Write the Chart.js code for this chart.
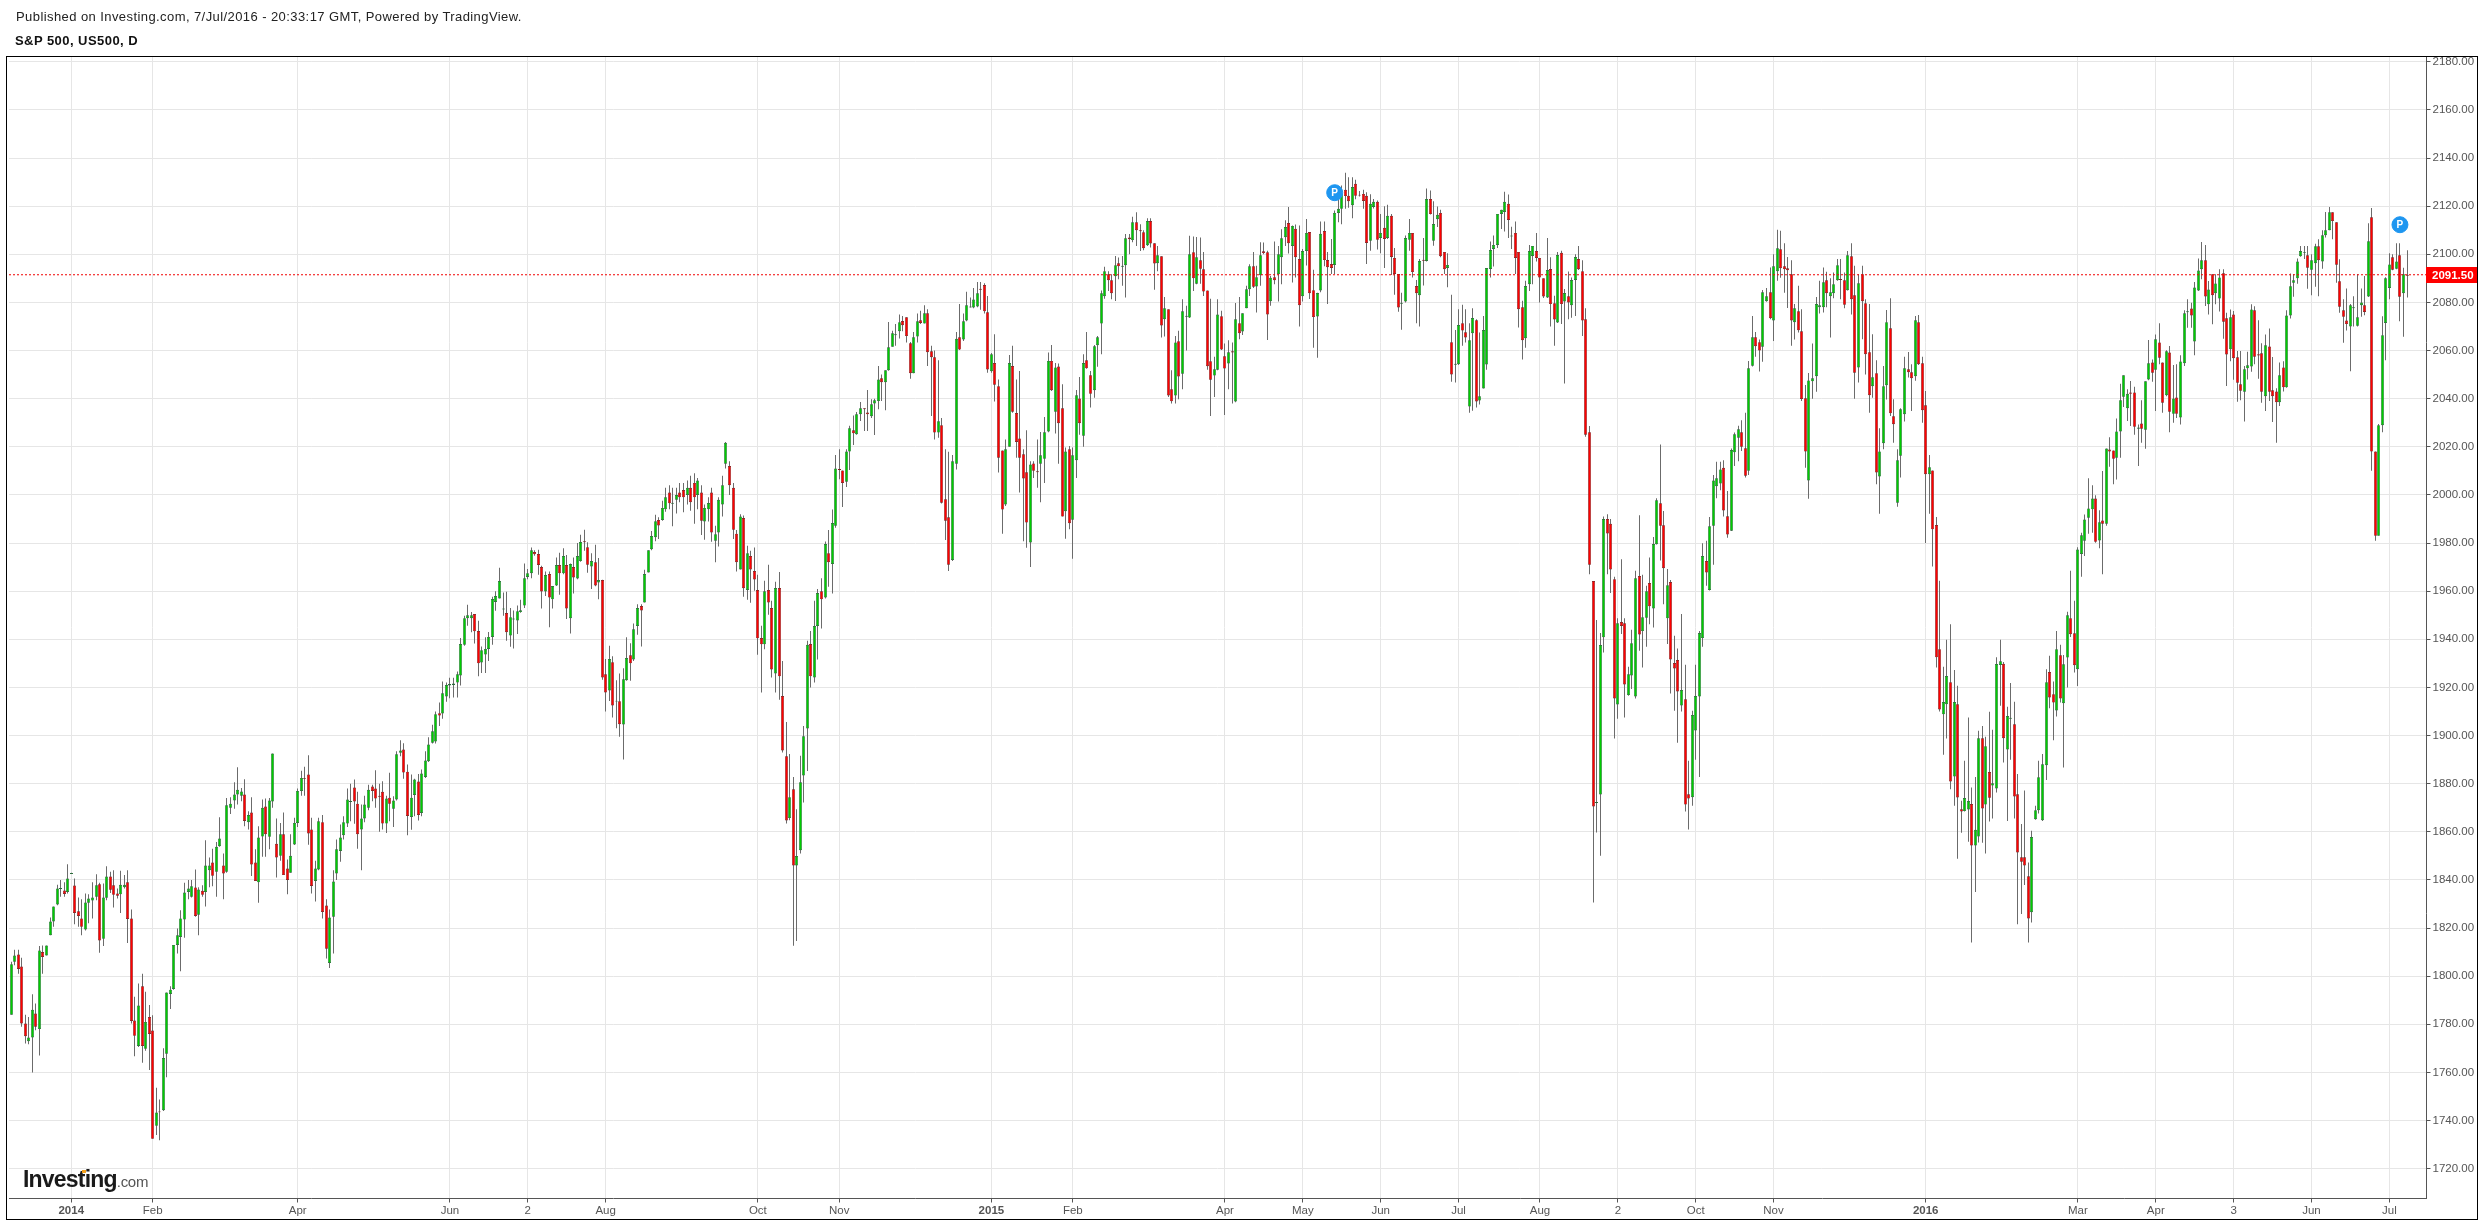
<!DOCTYPE html>
<html>
<head>
<meta charset="utf-8">
<title>S&amp;P 500, US500, D</title>
<script src="https://cdn.jsdelivr.net/npm/chart.js@4/dist/chart.umd.min.js"></script>
<style>
  html, body { margin: 0; padding: 0; background: #fff; }
  body { width: 2484px; height: 1222px; position: relative; overflow: hidden; font-family: "Liberation Sans", Arial, sans-serif; }
  #chart { position: absolute; left: 0; top: 0; }
  #published { position: absolute; left: 16px; top: 10px; font-size: 13px; letter-spacing: 0.42px; line-height: 14px; color: #222; white-space: nowrap; }
  #symbol { position: absolute; left: 15px; top: 34px; font-size: 13px; letter-spacing: 0.45px; line-height: 14px; font-weight: bold; color: #111; white-space: nowrap; }
  #frame { position: absolute; left: 6px; top: 56px; width: 2472px; height: 1164px; box-sizing: border-box; border: 1px solid #000; pointer-events: none; }
  #logo { position: absolute; left: 23px; top: 1165px; white-space: nowrap; color: #1a1a1a; font-size: 23px; font-weight: bold; letter-spacing: -0.8px; line-height: 28px; }
  #logo span { font-size: 15px; font-weight: normal; color: #555; letter-spacing: -0.3px; }
  #logoDot { position: absolute; left: 82px; top: 1170px; width: 4px; height: 3px; background: #f7a21b; }
</style>
</head>
<body>
<canvas id="chart" width="2484" height="1222"></canvas>
<div id="published">Published on Investing.com, 7/Jul/2016 - 20:33:17 GMT, Powered by TradingView.</div>
<div id="symbol">S&amp;P 500, US500, D</div>
<div id="frame"></div>
<div id="logo">Investing<span>.com</span></div>
<div id="logoDot"></div>
<script>
// daily candles
const opens = [
1784,1806,1809,1804,1780.3,1773,1774.5,1784.5,1778,1810,
1808.6,1817,1822.7,1829.8,1836.2,1835.6,1835,1842.5,1837.7,1827,
1824,1819.4,1830.5,1831.4,1833,1838.2,1815.5,1832.6,1841.4,1837.8,
1834.4,1834,1837,1839,1824,1781.6,1771,1795.8,1769.8,1783,
1777.4,1737.8,1743.8,1744.3,1767.8,1792.6,1794.7,1813,1816.3,1823.5,
1835,1833,1836.9,1825.5,1835.5,1835,1844,1847.2,1843.4,1854,
1846,1843.4,1870,1873,1875.5,1875,1875.5,1864,1868,1847.2,
1839,1858,1870.5,1857.9,1872.6,1855,1850,1859,1844.7,1843,
1854.7,1863.7,1877,1882.4,1883.8,1861,1839.6,1844.3,1864,1829.4,
1805.5,1824.7,1842.7,1852,1858.6,1863.4,1872.4,1878.4,1871.7,1861,
1865.5,1870,1878.8,1878,1875,1876.6,1863.4,1874.2,1869.6,1873.4,
1892.8,1894.2,1885,1866.2,1875.3,1880.9,1867.8,1882.8,1889.3,1897,
1897.5,1909.3,1909.2,1916.2,1920.8,1921,1922,1925,1937.7,1948.8,
1948.8,1950.5,1943.4,1930.4,1933.7,1936,1941,1955.5,1957,1952.4,
1950.9,1941.6,1948.2,1947.8,1951.3,1954,1965.9,1967.5,1976.3,1975.4,
1970,1959.9,1967.1,1956.6,1962.4,1970.9,1967.4,1970.9,1948.8,1970,
1965.3,1972.5,1980.8,1978.3,1970.3,1972,1963.6,1964.6,1925.5,1918.7,
1930.5,1914.1,1914.3,1904.6,1923,1933.4,1931.6,1945.5,1953.8,1955.3,
1967.8,1977.4,1982.4,1989.6,1989.6,1994,2001,1996.3,1998,2001,
2002,2000,2003,2005,2000,2001,1989,1994,2001,1981,
1984.4,1996,2013,2012,2003,1983.9,1969,1990.4,1960.5,1974.6,
1968.4,1960.5,1940.5,1937.9,1960.5,1953,1925.8,1961.3,1916.4,1891.4,
1865.7,1877.7,1846,1852.3,1883.4,1902.9,1938,1924.1,1945.5,1960,
1957.4,1975.8,1971.3,1987.2,2010.8,2010.2,2005.5,2018,2026.9,2025.2,
2033.5,2036,2034.3,2032.7,2038,2039,2048.5,2046.8,2051.8,2061.6,
2066.4,2068,2072.3,2073.8,2063,2050.6,2065.8,2072.6,2071.2,2075.5,
2059.7,2057.2,2025.9,2029,1998.2,1990.7,1973,2013,2065.5,2064.6,
2072.5,2077.9,2077.9,2078.3,2085.7,2087.2,2075.9,2051.4,2054.8,2045.2,
2018.5,1996,2020,2053.6,2034,2023.5,2016.9,2009.4,1980.2,2013.1,
2009.8,2013,2015,2026.4,2055.7,2034.6,2053.4,2036,1993.2,2019,
1989.7,2014.4,2040.1,2024.6,2056,2049.7,2043.5,2062.2,2071.2,2082.6,
2091.7,2089.2,2090.9,2096.3,2094.8,2095.5,2107,2105.9,2113.3,2110,
2109.2,2103.8,2113.8,2104.6,2096.3,2099.2,2073,2077.2,2043.9,2041.3,
2063.9,2050.4,2074.1,2073.7,2100.9,2087.8,2097.5,2093.8,2085,2055.6,
2049.6,2052,2074.3,2057.6,2054.6,2059.7,2038.8,2071.4,2067.9,2077.6,
2085.5,2095,2086.6,2091.3,2101.3,2100.9,2080.5,2090.5,2091.7,2098.8,
2107.1,2113,2103.5,2110.6,2098,2082.6,2101.4,2109.3,2085.1,2074.2,
2085,2109.7,2097.6,2096,2095.6,2117.2,2118.9,2126.8,2124.3,2120.4,
2129.3,2124.8,2125.1,2124.3,2105.6,2119.7,2121.8,2106.8,2111,2106.8,
2116,2098.5,2091.8,2079.5,2080.4,2106,2108.9,2086.8,2083,2097.7,
2097.2,2123,2105.6,2114.6,2117.2,2101,2094.3,2063.5,2054.1,2054.3,
2071.4,2067.6,2036.7,2067.2,2072.6,2039.2,2044.2,2054.2,2093.9,2102.2,
2103.9,2116.8,2117.6,2121,2107.4,2108.9,2101,2078,2065.1,2087.6,
2099.3,2101.4,2098.5,2090.1,2082.1,2093.9,2079.7,2071.7,2100.6,2080.4,
2082.6,2078.8,2089.3,2098,2093,2073,2026,1964.2,1872,1875.5,
1940.8,1990,1988,1965,1912.9,1947.2,1946.7,1916.8,1925,1916.2,
1966.3,1943.4,1949,1963.4,1952.8,1979.5,1996.5,1987.4,1948.7,1963.8,
1930.1,1931.4,1912.5,1915.1,1875.6,1874.4,1902.1,1916.2,1940.5,1972.5,
1960.5,1987.2,2003.6,2004.7,2011.3,1991.1,1985.1,2017.7,2023.8,2026,
2019.4,2010,2053.7,2065.5,2063.5,2061.6,2080.5,2084.2,2072.5,2093,
2102.1,2095,2094.2,2091.7,2071.8,2076.3,2068,2040.2,2006,2047.2,
2049.3,2078,2078,2089.2,2082.6,2083.8,2089.2,2089.7,2089.2,2085.1,
2099.2,2083,2053,2091.7,2079.7,2059.3,2045.2,2050.6,2007.7,2021.5,
2045.6,2069.3,2032.7,1996.8,2016.3,2033.5,2052.2,2051,2049.3,2071.8,
2054.7,2037.3,2008.6,2010.2,1987.5,1935.9,1908.8,1913,1922.2,1883,
1913,1869.4,1868.6,1869.3,1871.5,1854.3,1858,1898.9,1871.3,1884.8,
1879.2,1878,1929.3,1929.8,1894.2,1907,1904.7,1875.6,1849.4,1849.4,
1841.5,1826.6,1865.2,1869,1864.8,1887.7,1926.4,1917.2,1910.4,1933.4,
1913.4,1932.4,1948.8,1942.5,1927.6,1975.5,1981,1990.5,1994,1998.5,
1981.1,1989.4,1988,2018.9,2018.5,2015.5,2026.4,2040.8,2036,2042.6,
2042.6,2027.5,2029.7,2027.1,2048,2055,2052,2063.4,2055,2041.4,
2059.2,2033.7,2040.5,2032.2,2054.7,2075.9,2077.5,2063.8,2085,2093.8,
2097.5,2079.2,2091.7,2083.8,2081.6,2092.1,2073.4,2060.5,2075,2057.2,
2046,2042.9,2052.6,2053.4,2076.7,2058.5,2058.9,2041,2061.7,2043.5,
2043,2038.5,2053,2044.7,2074.6,2088.2,2090,2099.2,2100.6,2099.6,
2093.6,2096.3,2103.3,2097,2107.9,2110,2117.5,2113.3,2088.8,2076.7,
2072.5,2070,2077.6,2070.3,2078.8,2078.8,2082.5,2115.4,2018,1983,
2029,2071.5,2086,2098.8,2094,2099.6,2083.8,2091.5
];
const closes = [
1805,1808.6,1803,1780.3,1775,1774.5,1786,1779,1810.7,1808,
1812.7,1822.7,1829,1836.4,1836.6,1834.2,1840.6,1842.9,1826.3,1825,
1820.5,1830.6,1832.3,1832.7,1837.8,1814.8,1832.7,1841.4,1835.9,1833.8,
1833.4,1838,1838,1823.8,1781.4,1775.2,1787.8,1771,1781,1776,
1732.4,1743.3,1743.4,1766,1793.2,1794.4,1813,1817,1824,1834.8,
1836.4,1837.4,1825,1836,1833.8,1846,1846,1841.7,1853.8,1857.2,
1842.7,1871,1871.7,1875.5,1877.5,1876.7,1864.5,1867,1846.4,1839.6,
1857.6,1870,1859,1873,1892.5,1849.3,1859,1842,1840,1850,
1863.7,1877,1882.4,1882,1859.3,1837.5,1844.7,1864.4,1826.7,1811.4,
1824.4,1839.3,1852.7,1857.6,1864,1873.4,1872.8,1872.6,1859,1865.5,
1871.3,1877.5,1877,1873.8,1874.6,1863.4,1873.8,1871.7,1873,1892.2,
1893.8,1884.6,1866.6,1874.2,1881.7,1867,1884.2,1889.6,1896.3,1901.8,
1908.9,1908.3,1917.6,1921,1921.4,1921.6,1925.5,1938,1948.8,1950,
1950,1943.3,1930,1935.5,1936,1941,1956.7,1958,1964.2,1952.8,
1942.9,1949.2,1948.6,1951.7,1952.1,1965.4,1967.5,1977,1975.3,1970.9,
1959.9,1966.7,1957.4,1962.1,1970.9,1967.4,1974.6,1952.8,1971.3,1965.7,
1974.6,1980.4,1980.3,1971,1972.5,1962.4,1964.6,1924.1,1917.9,1931.8,
1912.5,1914.5,1904.7,1923.4,1932.2,1930,1944.2,1953,1952,1967.1,
1977,1982.9,1989.1,1987.3,1994.6,1999,1996.5,1996.7,2000,1999,
1999,2003,1997,1999,2006,1989.3,1994.6,1996.6,1984.4,1983.7,
1998,2004,2021.7,2004,1985.5,1972,1991,1961.2,1975.8,1969,
1964.9,1940.4,1937.9,1960,1955.3,1927.5,1961.3,1924.6,1893.8,1864.7,
1874.4,1846,1849.9,1880.6,1899.7,1937.7,1924.6,1945.5,1959.2,1956.6,
1979.6,1972,1988.3,2011,2010.4,2005,2018,2027.7,2025.6,2033.5,
2036,2035.6,2033.5,2037.7,2039.3,2048,2046.8,2051.8,2061.4,2067.2,
2066.8,2071.8,2070.5,2066,2050.6,2065.5,2072.2,2071.5,2075.5,2059.3,
2057.2,2025.9,2030.6,1996.8,1989.3,1971,2014,2064.9,2060.4,2072.2,
2078.8,2078.3,2081.2,2083.8,2085.3,2076.3,2052.1,2058.5,2045.8,2015.5,
1993.9,2019,2054.8,2034.6,2022,2015.5,2006.8,1988.5,2012.6,2010,
2009.4,2016.5,2026,2055.7,2043.5,2053,2029.8,1991,2018,1988.2,
2016.5,2041.4,2029.8,2054.8,2052.6,2042,2061.8,2065.5,2083.8,2093,
2089.2,2083.8,2095.5,2095,2095.2,2106.7,2106.3,2113.3,2110,2109.6,
2102.5,2113.8,2104.5,2096.2,2099.6,2070.4,2077.6,2041.3,2038.9,2063.4,
2049.2,2076.3,2074.5,2100,2090,2098.8,2094,2084.5,2053.5,2047.9,
2052.2,2075,2060.4,2052.5,2059.3,2059.2,2073,2067.2,2075.5,2085.5,
2095,2086.5,2090.5,2099.6,2100.5,2075,2090.3,2089.2,2100,2106.7,
2111.3,2104.6,2111.8,2098.8,2078.8,2101.4,2108.9,2083.8,2073.9,2083.9,
2108.5,2097.6,2094.6,2094.3,2117.2,2118.9,2125.1,2124.2,2122.1,2128,
2124.3,2124.4,2122.2,2104.7,2121,2121.8,2106,2108.9,2106.4,2116,
2098.9,2091.8,2077.9,2079.9,2106.8,2108.9,2092.6,2083.8,2097.2,2097.3,
2123,2116.7,2112.6,2116.4,2099.2,2093.8,2095.6,2050.1,2054.5,2070.6,
2068.3,2065.4,2064.3,2073.5,2038.8,2041,2068.5,2094.3,2101.8,2103.9,
2116.8,2118.5,2121.8,2114.3,2107.8,2098.5,2077.2,2064.3,2086.8,2101.4,
2103.5,2098.5,2090.4,2082.5,2093.5,2079.3,2072.9,2099.7,2079.3,2083.9,
2080,2089.3,2098.9,2093.8,2072.5,2025,1971,1870.5,1872.4,1937.6,
1990,1984,1969,1915.4,1946.7,1945.5,1921.2,1925.5,1938.4,1965.4,
1942,1949.2,1960,1953.7,1979.6,1997.8,1987.2,1969.5,1962.5,1931.6,
1927.9,1918.3,1918.9,1871.3,1873.8,1908.5,1916.4,1942.6,1974.6,1967.8,
1987,2006,2006.9,2010.6,1993.5,1983.6,2018.7,2025.2,2027.3,2020,
2008,2052.6,2065.5,2061.8,2060,2084.2,2082.6,2073.4,2095,2102.5,
2094.2,2093.8,2093.4,2072.5,2077.6,2068.4,2039.9,2018,2047.6,2048.5,
2079.3,2078.8,2088.4,2083.8,2084.2,2087.6,2095.5,2089.3,2079,2099.6,
2081.3,2050.8,2088,2080.5,2058.5,2041.4,2048.9,2009.3,2018.1,2045.2,
2071.8,2033.9,2029.4,2014.4,2035.6,2052.6,2051,2048.5,2072.6,2054.3,
2035.2,2008.6,2011.5,1985.7,1932.5,1910.8,1913.9,1924.7,1880.9,1913.9,
1874.3,1868.4,1874,1872.8,1854.3,1860.8,1898.9,1869.7,1895.6,1874.2,
1880.2,1929.7,1930.9,1898.9,1908.1,1907.4,1874.7,1851.4,1847.6,1846,
1824,1857.8,1869,1882.7,1888.1,1922.2,1915.8,1913.7,1935.9,1915.4,
1929.6,1950,1942.1,1929.2,1977.3,1983.2,1989.8,1994.4,1998.5,1980.5,
1988.6,1988,2019.3,2018,2015,2026.4,2039.3,2049.7,2042,2042,
2028.3,2028,2027.5,2047.2,2054.7,2050.8,2064.7,2057,2038.3,2059.7,
2034.6,2040.1,2033.7,2055.5,2075.5,2076.3,2074.6,2086.2,2093.3,2097.5,
2082.5,2085.4,2083,2087.9,2090.4,2072,2058.4,2073.8,2056.8,2046.6,
2043.3,2052.2,2053.9,2077.1,2057.4,2057.9,2042.9,2062.2,2042.9,2041,
2038.5,2049.7,2044.7,2074.6,2086.7,2089.2,2097,2101.4,2101,2094.4,
2097.5,2103.3,2097.5,2107.9,2110,2117.5,2113.8,2095.7,2078.2,2074,
2071,2078.8,2078,2073.8,2080,2076,2105.4,2018,1983,2029,
2066.4,2090,2095.8,2093.6,2097,2082.4,2091.7,2091.1
];
const highs = [
1806,1811,1811,1807.7,1784,1783,1792.5,1788.6,1812.5,1812.7,
1812.7,1824.4,1829,1838,1840,1839,1846.5,1843,1840.6,1832.7,
1832,1834.4,1834,1839,1842.4,1838.8,1838.5,1845.7,1843.4,1844,
1836.4,1843.8,1842,1844,1827.7,1791.4,1797,1801,1793.5,1788,
1783.8,1753.6,1748.7,1770,1793.2,1795.8,1813,1819.8,1827.4,1838.8,
1840,1840,1844.3,1837,1837.8,1856.5,1849.3,1853,1855.8,1866,
1851,1874,1874.4,1880.6,1886.8,1878.2,1881.8,1868.5,1874.4,1852.7,
1862.3,1873.4,1873.8,1874,1892.5,1865.5,1863.7,1868,1848.5,1859,
1865.8,1878,1885.4,1887,1891.8,1865.8,1848,1865.8,1867,1832,
1827.7,1844,1856.8,1863,1866.5,1878,1880,1881.7,1876.6,1871.3,
1875,1879.6,1879.6,1885.6,1880,1881,1875,1884.5,1874.8,1893.5,
1898,1896.8,1888,1883.8,1882,1884,1885.9,1893.5,1899.3,1904.5,
1910,1913.7,1922.5,1922,1924,1924,1926.6,1940.5,1949.8,1954.4,
1951.3,1950.5,1947.7,1937,1940.8,1943,1957.7,1960,1969.7,1959.5,
1959.8,1953,1952,1954,1956.4,1971.5,1969.2,1978.2,1977,1977.2,
1970.6,1968.2,1968.2,1962.1,1974,1976,1977.8,1975,1971.5,1974,
1980,1983.5,1985.5,1980.3,1975.8,1979.3,1973.8,1964.8,1931.8,1937.3,
1933,1923,1925.8,1928,1940.8,1938.4,1946.6,1954.6,1954.6,1968.9,
1977,1985,1991.8,1990.7,1997.6,2003,2004,2003,2003,2005,
2005,2006,2008,2009,2007,2004,1996,1999,2003,1987.2,
1999,2008,2022,2014,2005,1985.4,1992,1991.4,1978.9,1976.8,
1978.2,1966.8,1945.6,1964.3,1971,1956,1963.9,1968,1931,1905.6,
1892.3,1882.8,1869.4,1891.6,1904,1939.4,1943.5,1956,1960.9,1965.4,
1980.6,1985.4,1993.9,2016.6,2019,2010.2,2019,2028.7,2033,2034.5,
2038.6,2036,2043.6,2039.8,2040,2053.6,2050,2051.8,2071.9,2068.2,
2071,2075,2074.4,2073.8,2063.6,2067.7,2075.4,2076.5,2078.8,2077.2,
2062,2060,2056,2032,2019,2017.9,2016.6,2067.7,2079.3,2075.4,
2084.4,2082,2086,2088.5,2088.5,2088,2082.7,2059,2066.8,2048,
2018.5,2023,2058.2,2062,2048,2051.5,2019,2026.9,2014,2014,
2023,2026.2,2032.4,2059.2,2062.3,2054.8,2054.6,2046,2019.7,2020.3,
2019.7,2043.6,2049,2058.5,2067.7,2051.5,2062.3,2066,2085,2094.8,
2093,2091.7,2099.3,2098.7,2099.3,2108.4,2108.4,2115.6,2117.5,2112.5,
2110,2115,2115,2104.6,2103.5,2099.2,2082.3,2077.2,2051.8,2066,
2068.2,2081.3,2078.6,2107.7,2107.4,2107.2,2107,2101,2085,2081.5,
2057.4,2081.3,2076.5,2062.9,2064.3,2063.3,2079.8,2082.3,2075.5,2086.9,
2095.9,2101,2095.2,2105,2104.9,2101.5,2091,2105.3,2103.5,2110.4,
2114.2,2119.7,2112,2112.4,2112,2102.2,2114.7,2109.3,2093.6,2084,
2113.6,2113.6,2101,2106.4,2118.2,2125,2128.6,2133.9,2132,2132,
2131,2126.3,2126.8,2125.8,2125,2123,2122.4,2116.8,2120,2120.6,
2116.8,2102.6,2091.8,2084,2107.8,2114.7,2108.9,2089.3,2098,2106.8,
2127.4,2126.5,2122.1,2119.9,2118.5,2101,2100.4,2083.2,2068.5,2077.2,
2079,2077.2,2071.4,2077.6,2073,2067.5,2074.4,2094.3,2105.3,2107.8,
2116.8,2118.5,2126,2124.9,2111.5,2113.6,2101,2080.7,2089,2103.9,
2103.5,2108.9,2098.5,2090.1,2106.8,2098.8,2082.8,2101,2101.5,2085.6,
2092.9,2090.4,2100,2103.5,2097.5,2077.6,2028.6,1964.2,1948,1942.6,
1991,1992,1990,1966,1948.8,1973.3,1948.8,1928.6,1944,1968.5,
1991.6,1966.8,1962.3,1974,1982.5,1998.6,2021,1993.3,1969.2,1964.6,
1941.5,1936.2,1950.5,1929.4,1889.5,1910.3,1929.4,1943.5,1979.9,1981,
1990.8,2008.3,2013.8,2013.8,2014.4,2001.6,2019.3,2025.9,2028.7,2031,
2034.2,2055.7,2074.4,2067.7,2064.6,2085.2,2086,2094.5,2100,2110.2,
2109.8,2104.6,2098.9,2097.5,2079.3,2086.9,2077.2,2045.7,2050.7,2062.9,
2082.3,2089,2094.5,2092.8,2090,2092.4,2098,2098,2092.4,2101.4,
2104.6,2095.2,2091.7,2095.2,2081.3,2079.3,2066.8,2056,2027.7,2053.6,
2076.9,2081.7,2039.8,2019,2036,2057.4,2059.4,2054.3,2074.4,2074.8,
2057.4,2043.2,2016.6,2010.2,1990.8,1964.3,1928.6,1939.8,1946.3,1927.2,
1920.7,1872.9,1889.5,1907.5,1878.4,1882.8,1902,1904,1899.5,1909.9,
1902.4,1932.5,1939.8,1930.6,1912,1921.8,1914,1884,1863.2,1877.2,
1847.2,1860.4,1870.8,1889.5,1892.3,1927.6,1933.2,1922.5,1943.5,1937.7,
1933.5,1951.5,1968.5,1956,1978.3,1984.3,1991.9,2006.9,2004,1999.9,
1993.6,2009.9,2019.3,2024,2018.5,2031.8,2046.2,2049.7,2043.9,2047.3,
2045,2029.3,2039.3,2047.2,2064.4,2056.3,2066.7,2071.3,2055,2060.1,
2061.9,2054,2054.3,2058.1,2076.7,2081.3,2079.9,2088.5,2098.3,2105.1,
2103.9,2088.9,2091.7,2091.7,2093.8,2093.8,2075.7,2077.1,2076.4,2059.8,
2059.8,2053.6,2059.5,2079.2,2078.4,2072.6,2063,2066.7,2069.2,2057.3,
2044.3,2055,2055.6,2076.7,2092,2091.7,2098.3,2103.5,2103.5,2103.5,
2100,2104.4,2106.3,2110,2117.6,2119.7,2117.5,2113.3,2097.9,2081.3,
2085.8,2079.4,2082.6,2091.7,2085.8,2091,2112.9,2119.2,2018,2029.5,
2074.3,2090.5,2100.4,2100,2104.6,2104.6,2094.4,2101.7
];
const lows = [
1784,1804.5,1801,1779,1772,1771.7,1760,1777.5,1767,1801,
1808.6,1817,1820.5,1829.5,1833,1833,1834.4,1842.5,1821.6,1820.5,
1817,1819,1822,1824,1831.6,1809.7,1812.5,1831.6,1834.6,1828.5,
1832.3,1826.3,1836.4,1813.8,1780.3,1766.7,1770.6,1764,1769,1761,
1732.4,1734,1731.8,1744,1758,1786.4,1794.4,1809.4,1802,1816,
1832,1832.7,1824.7,1817,1833,1829,1837,1837.4,1833,1853.8,
1832,1843,1867.4,1869.6,1871.3,1872.7,1862.3,1861,1841.6,1839.6,
1830.5,1849.6,1849.6,1852.7,1870,1841,1848,1842,1834,1843,
1854.5,1862,1875,1875,1854.6,1834.4,1831,1844,1824,1807.3,
1803.4,1809.4,1840,1847.5,1856.8,1862,1864.4,1863.3,1853,1844,
1864,1869,1872.7,1870,1860,1861,1859.5,1864.4,1862,1873,
1891.4,1882,1858.6,1860.8,1866.5,1864.7,1866.5,1882.4,1889,1896.7,
1896.7,1904,1907,1914,1915.5,1915.8,1915.8,1920.8,1937.3,1945.6,
1942.9,1938.3,1924.6,1926,1926,1931,1937.7,1951.9,1957,1949.8,
1939.4,1936.9,1936.2,1942.2,1951,1953,1965,1965.4,1974.7,1966.8,
1952.8,1958,1945,1952.8,1962.1,1958.5,1967,1948.4,1942.4,1959,
1965,1972.2,1976.8,1967.7,1960.9,1962,1956.6,1923.2,1910,1914.4,
1907.5,1903,1899.5,1890,1922.8,1922.8,1931,1941.9,1937,1955.3,
1967.8,1977,1980.7,1981.7,1989.3,1993,1994,1987,1992.3,1997,
1992.8,1996,1993.4,1988,1994,1983.3,1981.4,1989,1980.5,1972,
1978.6,1991,2011,2000,1981.7,1968.2,1969,1957.7,1956.4,1955.2,
1960.2,1933.6,1917.9,1935.9,1950.2,1924.1,1917.9,1914.9,1893,1863.4,
1864.8,1812.6,1814.6,1851,1872.2,1885.3,1920,1922,1931.6,1944.5,
1957,1961.8,1959,1986.4,2006.5,1995,2003.3,2010.4,2020.8,2025,
2030.7,2026.6,2026.6,2032,2024.9,2035.6,2039,2035.2,2051.6,2061.6,
2062,2065,2068,2063.3,2048.3,2050.6,2063.3,2071,2071.2,2053.6,
2032.8,2023,2023.8,1996.4,1981.3,1968.4,1972.5,2010.6,2060.2,2064,
2072.2,2077.9,2077.6,2078,2077,2075.4,2050.8,2050.8,2038.8,2009.3,
1983.9,1995.4,2020,2034.2,2015.5,2001,1980.8,1978,1970,2007,
2003,1997,2005,2026,2043.2,2025.5,2013,1991,1981.8,1985.7,
1973.5,2007,2025,2020,2052.4,2036.3,2040.4,2053.3,2058.5,2081.5,
2084.8,2081.3,2080.6,2089.6,2086.9,2082,2100,2105,2103.5,2101.4,
2101.7,2103.5,2102.8,2085.3,2093,2065.4,2065.8,2040.7,2038,2038,
2039.8,2043.9,2060,2073.5,2084.8,2087.6,2087.8,2082.7,2052,2032.8,
2040.7,2051.8,2060.2,2033.2,2043.9,2038,2038.5,2064.7,2066.5,2077.6,
2082.7,2086,2075.8,2086.9,2100,2064.4,2078.6,2087.6,2080.4,2087.6,
2103.5,2100.3,2088.3,2090.4,2070,2080.4,2095.3,2081.4,2061.2,2057,
2084.2,2095,2079.3,2091.8,2091.8,2113.3,2112.5,2118.9,2119.3,2115,
2122.9,2124,2118.9,2096,2101.5,2119,2102,2100.4,2094.3,2106.4,
2091.4,2083.2,2076.1,2068.6,2080,2101.5,2090.4,2071.3,2070,2087,
2097,2116.5,2103.6,2111.3,2098.8,2091.8,2086.3,2047,2046.7,2054,
2062,2063.3,2034.2,2035,2036.3,2037.6,2044.2,2052,2090.4,2094.9,
2102.6,2110.5,2109.5,2106.8,2102.2,2091.8,2069.6,2056.3,2061.2,2084.8,
2087.6,2097,2080,2081.8,2081.8,2070,2062,2071.5,2071,2046.3,
2073,2073.6,2074.4,2093.5,2066,2024.2,1967,1830.6,1859.7,1850,
1934.5,1967,1959.2,1898.8,1907,1942.2,1907.5,1916.5,1919.3,1915.4,
1935.2,1928.3,1936.9,1946.3,1944.9,1979.4,1972.7,1954.6,1938,1917.5,
1910.3,1897,1910,1868.4,1861,1870.8,1889.9,1882.8,1936.9,1962.3,
1960.3,1971,1998.6,2001.9,1991,1982.2,1985,2012,2014,2018.3,
2007.2,2008.3,2053.4,2057.4,2051.3,2055.3,2080.3,2073,2064,2089,
2090.3,2084,2077.7,2062,2064.6,2067.5,2039,2011.3,1998.4,2040,
2042.9,2075.4,2075.8,2078,2065.4,2081.7,2089,2081.3,2077.6,2085,
2075,2040,2046.7,2064.7,2050.1,2034.2,2040.4,2004.4,1992.2,2019,
2039.7,2032.8,2021.7,1995.1,2007.2,2030.5,2048.8,2034.9,2047.4,2054,
2030,1980,1992.2,1970.3,1928.3,1910,1892,1898.8,1877.7,1870.8,
1848.8,1859.6,1868.4,1855.9,1814,1835,1855.5,1855.4,1851,1864.3,
1865.5,1876.3,1912.4,1888.8,1864.5,1889.9,1865.5,1821.6,1825.8,1837.9,
1814,1822.3,1865,1867.6,1864.5,1881.5,1911.3,1898,1907.9,1913.7,
1886.7,1920,1941,1926.2,1920.6,1966,1974.6,1983.9,1984.3,1980.1,
1977.8,1967,1987.2,2011.7,2004.4,2006.4,2015.5,2036.5,2030.7,2028.6,
2025,2012,2021.7,2019.2,2047.7,2047,2034.9,2054.3,2034.2,2041,
2026,2030,2032,2029.3,2053.6,2069.5,2069.5,2058,2084.8,2089.6,
2078.5,2075,2070.9,2079.2,2076.2,2064.9,2045.3,2055.6,2047.9,2038.7,
2039.3,2030.5,2048,2051.2,2054.3,2048.3,2038.3,2034.9,2039,2030.3,
2021.7,2037,2043,2044.5,2073.3,2082.4,2087.8,2099,2098,2085.7,
2083,2086.5,2082.6,2094,2107,2110,2106.3,2088.2,2075.7,2063.2,
2068.3,2051.4,2070,2070,2074,2074.7,2082.3,2010,1981,1983,
2026,2056,2081.3,2093.4,2093.8,2072.2,2065.7,2082
];

// x axis: bar index of each labelled date
const tickIdx = [17,40,81,124,146,168,211,234,277,300,343,365,387,409,432,454,476,498,541,584,606,628,650,672];
const tickNames = ['2014','Feb','Apr','Jun','2','Aug','Oct','Nov','2015','Feb','Apr','May','Jun','Jul','Aug','2','Oct','Nov','2016','Mar','Apr','3','Jun','Jul'];
const yearNames = ['2014','2015','2016'];
const yTicks = [1720,1740,1760,1780,1800,1820,1840,1860,1880,1900,1920,1940,1960,1980,2000,2020,2040,2060,2080,2100,2120,2140,2160,2180];
const lastPrice = 2091.5;
const pubMarks = [{ x: 374, y: 2125.6 }, { x: 675, y: 2112.3 }];

if (opens.length !== closes.length || opens.length !== highs.length || opens.length !== lows.length) {
  throw new Error(`lengths ${opens.length} ${closes.length} ${highs.length} ${lows.length}`);
}

const xMin = -0.59, xMax = 682.5;
const GREEN = '#00cc00', RED = '#ff0000';

// bars land on fractional pixels, snap them so wicks stay 1px sharp
const snapBars = {
  id: 'snapBars',
  afterDatasetsUpdate(chart) {
    [0, 1].forEach(i => {
      chart.getDatasetMeta(i).data.forEach(el => { el.x = Math.floor(el.x) + 0.5; });
    });
  }
};

const overlays = {
  id: 'overlays',
  afterDraw(chart) {
    const { ctx, scales } = chart;
    const y = Math.round(scales.y.getPixelForValue(lastPrice));
    ctx.save();
    ctx.fillStyle = '#ff0000';
    ctx.fillRect(2426, y - 8, 51, 16);
    ctx.fillStyle = '#fff';
    ctx.font = 'bold 11.5px "Liberation Sans", Arial, sans-serif';
    ctx.textBaseline = 'middle';
    ctx.textAlign = 'left';
    ctx.fillText(lastPrice.toFixed(2), 2432, y + 0.5);
    ctx.fillStyle = '#fff';
    ctx.font = 'bold 10px "Liberation Sans", Arial, sans-serif';
    ctx.textAlign = 'center';
    pubMarks.forEach(m => {
      ctx.fillText('P', scales.x.getPixelForValue(m.x), scales.y.getPixelForValue(m.y) + 0.5);
    });
    ctx.restore();
  }
};

new Chart(document.getElementById('chart').getContext('2d'), {
  data: {
    datasets: [
      {
        type: 'bar',
        data: opens.map((_, i) => ({ x: i, y: [lows[i], highs[i]] })),
        backgroundColor: '#6b6b6b',
        barThickness: 1,
        borderWidth: 0,
        inflateAmount: 0,
        grouped: false,
        order: 4
      },
      {
        type: 'bar',
        data: opens.map((o, i) => ({ x: i, y: [o, closes[i]] })),
        backgroundColor: opens.map((o, i) => closes[i] >= o ? GREEN : RED),
        borderColor: opens.map((o, i) => closes[i] >= o ? '#2a6b3a' : '#7d1f1f'),
        borderWidth: 0.7,
        borderSkipped: false,
        inflateAmount: 0,
        barThickness: 3,
        grouped: false,
        order: 3
      },
      {
        type: 'line',
        data: [{ x: xMin, y: lastPrice }, { x: xMax, y: lastPrice }],
        borderColor: '#f00000',
        borderWidth: 1,
        borderDash: [2, 2],
        pointRadius: 0,
        order: 2
      },
      {
        type: 'scatter',
        data: pubMarks,
        backgroundColor: '#1e96f0',
        borderColor: '#1e96f0',
        pointRadius: 8,
        order: 1
      }
    ]
  },
  options: {
    responsive: false,
    animation: false,
    events: [],
    layout: { padding: { left: 7, top: 57, right: 7, bottom: 3 } },
    plugins: { legend: { display: false }, tooltip: { enabled: false } },
    scales: {
      x: {
        type: 'linear',
        offset: false,
        min: xMin,
        max: xMax,
        afterBuildTicks: scale => { scale.ticks = tickIdx.map(value => ({ value })); },
        afterFit: scale => { scale.height = 20.5; },
        grid: { color: '#e6e6e6', tickColor: '#555', tickLength: 4, offset: false },
        border: { color: '#555' },
        ticks: {
          autoSkip: false,
          maxRotation: 0,
          padding: 1,
          color: '#555',
          font: ctx => ({
            family: '"Liberation Sans", Arial, sans-serif',
            size: 11.5,
            weight: yearNames.includes(tickNames[tickIdx.indexOf(ctx.tick && ctx.tick.value)]) ? 'bold' : 'normal'
          }),
          callback: v => tickNames[tickIdx.indexOf(v)]
        }
      },
      y: {
        type: 'linear',
        position: 'right',
        min: 1707.6,
        max: 2182,
        afterBuildTicks: scale => { scale.ticks = yTicks.map(value => ({ value })); },
        afterFit: scale => { scale.width = 50.5; },
        grid: { color: '#e6e6e6', tickColor: '#555', tickLength: 4 },
        border: { color: '#555' },
        ticks: {
          autoSkip: false,
          padding: 2,
          color: '#555',
          font: { family: '"Liberation Sans", Arial, sans-serif', size: 11.5 },
          callback: v => v.toFixed(2)
        }
      }
    }
  },
  plugins: [snapBars, overlays]
});
</script>
</body>
</html>
